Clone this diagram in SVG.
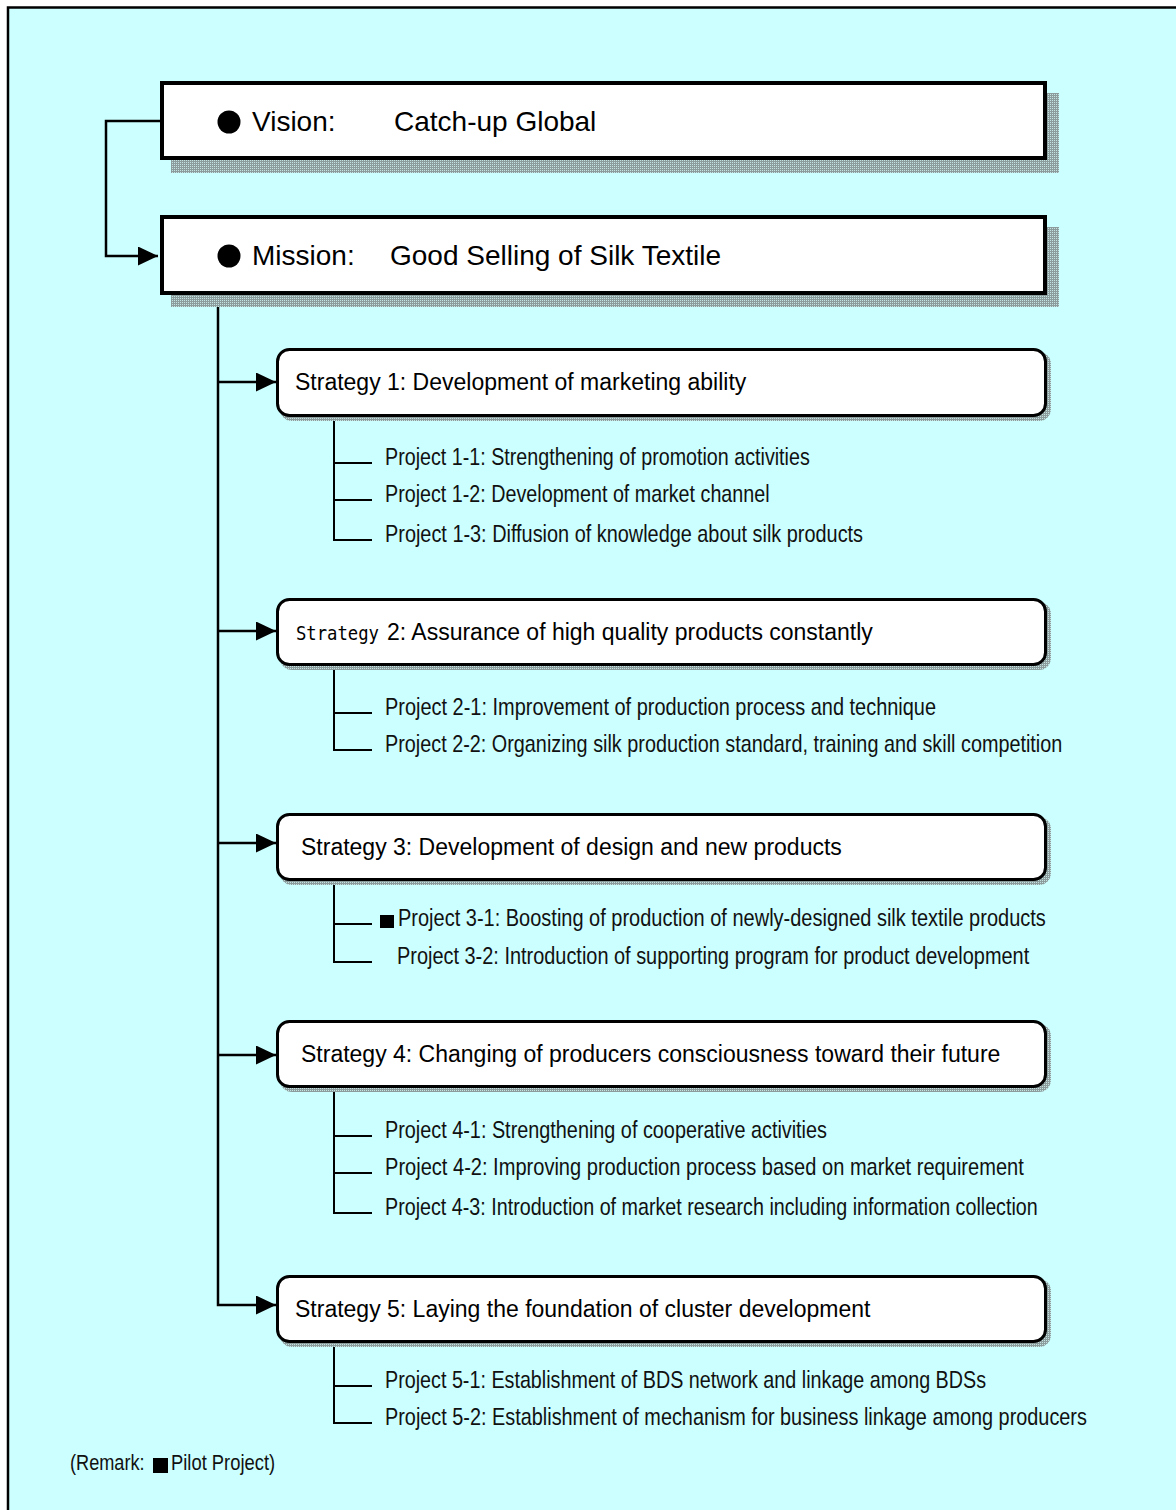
<svg xmlns="http://www.w3.org/2000/svg" width="1176" height="1510" viewBox="0 0 1176 1510">
<defs>
  <pattern id="hatch" patternUnits="userSpaceOnUse" width="2" height="2">
    <rect width="2" height="2" fill="#8c9c9c"/>
    <rect width="1" height="1" fill="#c4e4e4"/>
  </pattern>
  <marker id="arr" markerUnits="userSpaceOnUse" markerWidth="20" markerHeight="19" refX="20" refY="9.5" orient="auto">
    <path d="M0,0 L20,9.5 L0,19 Z" fill="#000"/>
  </marker>
</defs>
<style>
  .big { fill:#fff; stroke:#000; stroke-width:4; }
  .strat { fill:#fff; stroke:#000; stroke-width:3; }
  .shadow { fill:url(#hatch); }
  .conn { fill:none; stroke:#000; stroke-width:2.5; }
  .br { fill:none; stroke:#000; stroke-width:2; }
  .t28 { font-family:"Liberation Sans", Arial, sans-serif; font-size:28px; fill:#000; }
  .t23 { font-family:"Liberation Sans", Arial, sans-serif; font-size:23px; fill:#000; }
  .mono { font-family:"DejaVu Sans Mono", "Liberation Mono", monospace; font-size:19px; }
  .pj { font-family:"Liberation Sans", Arial, sans-serif; font-size:24px; fill:#111; }
  .rm { font-family:"Liberation Sans", Arial, sans-serif; font-size:22px; fill:#111; }
</style>

<rect x="8" y="7.5" width="1200" height="1560" fill="#ccffff" stroke="#000" stroke-width="2.5"/>

<g id="connectors">
  <path class="conn" d="M160,121 H106 V256 H158" marker-end="url(#arr)"/>
  <path class="conn" d="M218,295 V1305 H276" marker-end="url(#arr)"/>
  <path class="conn" d="M218,382 H276" marker-end="url(#arr)"/>
  <path class="conn" d="M218,631 H276" marker-end="url(#arr)"/>
  <path class="conn" d="M218,843 H276" marker-end="url(#arr)"/>
  <path class="conn" d="M218,1055 H276" marker-end="url(#arr)"/>
  <path class="br" d="M334,417 V540 H372 M334,463 H372 M334,500 H372"/>
  <path class="br" d="M334,666 V750 H372 M334,713 H372"/>
  <path class="br" d="M334,881 V962 H372 M334,924 H372"/>
  <path class="br" d="M334,1088 V1213 H372 M334,1136 H372 M334,1173 H372"/>
  <path class="br" d="M334,1343 V1423 H372 M334,1386 H372"/>
</g>

<g id="vision">
  <rect class="shadow" x="171" y="93" width="888" height="80"/>
  <rect class="big" x="162" y="83" width="883" height="75"/>
  <circle cx="229" cy="122" r="11.5" fill="#000"/>
  <text class="t28" x="252" y="131">Vision:</text>
  <text class="t28" x="394" y="131">Catch-up Global</text>
</g>

<g id="mission">
  <rect class="shadow" x="171" y="227" width="888" height="80"/>
  <rect class="big" x="162" y="217" width="883" height="76"/>
  <circle cx="229" cy="256" r="11.5" fill="#000"/>
  <text class="t28" x="252" y="265">Mission:</text>
  <text class="t28" x="390" y="265">Good Selling of Silk Textile</text>
</g>

<g id="strategy1">
  <rect class="shadow" x="280" y="352" width="771" height="69" rx="12"/>
  <rect class="strat" x="277.5" y="349.5" width="768" height="66" rx="12"/>
  <text class="t23" x="295" y="390">Strategy 1: Development of marketing ability</text>
</g>
<g id="project1-1"><text class="pj" transform="translate(385,465) scale(0.82,1)" textLength="518" lengthAdjust="spacingAndGlyphs">Project 1-1: Strengthening of promotion activities</text></g>
<g id="project1-2"><text class="pj" transform="translate(385,502) scale(0.82,1)" textLength="469" lengthAdjust="spacingAndGlyphs">Project 1-2: Development of market channel</text></g>
<g id="project1-3"><text class="pj" transform="translate(385,542) scale(0.82,1)" textLength="583" lengthAdjust="spacingAndGlyphs">Project 1-3: Diffusion of knowledge about silk products</text></g>

<g id="strategy2">
  <rect class="shadow" x="280" y="602" width="771" height="68" rx="12"/>
  <rect class="strat" x="277.5" y="599.5" width="768" height="65" rx="12"/>
  <text x="296" y="640"><tspan class="mono" textLength="83" lengthAdjust="spacingAndGlyphs">Strategy</tspan><tspan class="t23" x="387">2: Assurance of high quality products constantly</tspan></text>
</g>
<g id="project2-1"><text class="pj" transform="translate(385,715) scale(0.82,1)" textLength="672" lengthAdjust="spacingAndGlyphs">Project 2-1: Improvement of production process and technique</text></g>
<g id="project2-2"><text class="pj" transform="translate(385,752) scale(0.82,1)" textLength="826" lengthAdjust="spacingAndGlyphs">Project 2-2: Organizing silk production standard, training and skill competition</text></g>

<g id="strategy3">
  <rect class="shadow" x="280" y="817" width="771" height="68" rx="12"/>
  <rect class="strat" x="277.5" y="814.5" width="768" height="65" rx="12"/>
  <text class="t23" x="301" y="855">Strategy 3: Development of design and new products</text>
</g>
<g id="project3-1">
  <rect x="380" y="915" width="14" height="13" fill="#000"/>
  <text class="pj" transform="translate(398,926) scale(0.82,1)" textLength="790" lengthAdjust="spacingAndGlyphs">Project 3-1: Boosting of production of newly-designed silk textile products</text>
</g>
<g id="project3-2"><text class="pj" transform="translate(397,964) scale(0.82,1)" textLength="771" lengthAdjust="spacingAndGlyphs">Project 3-2: Introduction of supporting program for product development</text></g>

<g id="strategy4">
  <rect class="shadow" x="280" y="1024" width="771" height="68" rx="12"/>
  <rect class="strat" x="277.5" y="1021.5" width="768" height="65" rx="12"/>
  <text class="t23" x="301" y="1062">Strategy 4: Changing of producers consciousness toward their future</text>
</g>
<g id="project4-1"><text class="pj" transform="translate(385,1138) scale(0.82,1)" textLength="539" lengthAdjust="spacingAndGlyphs">Project 4-1: Strengthening of cooperative activities</text></g>
<g id="project4-2"><text class="pj" transform="translate(385,1175) scale(0.82,1)" textLength="779" lengthAdjust="spacingAndGlyphs">Project 4-2: Improving production process based on market requirement</text></g>
<g id="project4-3"><text class="pj" transform="translate(385,1215) scale(0.82,1)" textLength="796" lengthAdjust="spacingAndGlyphs">Project 4-3: Introduction of market research including information collection</text></g>

<g id="strategy5">
  <rect class="shadow" x="280" y="1279" width="771" height="68" rx="12"/>
  <rect class="strat" x="277.5" y="1276.5" width="768" height="65" rx="12"/>
  <text class="t23" x="295" y="1317">Strategy 5: Laying the foundation of cluster development</text>
</g>
<g id="project5-1"><text class="pj" transform="translate(385,1388) scale(0.82,1)" textLength="733" lengthAdjust="spacingAndGlyphs">Project 5-1: Establishment of BDS network and linkage among BDSs</text></g>
<g id="project5-2"><text class="pj" transform="translate(385,1425) scale(0.82,1)" textLength="856" lengthAdjust="spacingAndGlyphs">Project 5-2: Establishment of mechanism for business linkage among producers</text></g>

<g id="remark">
  <text class="rm" transform="translate(70,1470) scale(0.82,1)" textLength="91" lengthAdjust="spacingAndGlyphs">(Remark:</text>
  <rect x="153" y="1458" width="15" height="15" fill="#000"/>
  <text class="rm" transform="translate(171,1470) scale(0.82,1)" textLength="127" lengthAdjust="spacingAndGlyphs">Pilot Project)</text>
</g>
</svg>
